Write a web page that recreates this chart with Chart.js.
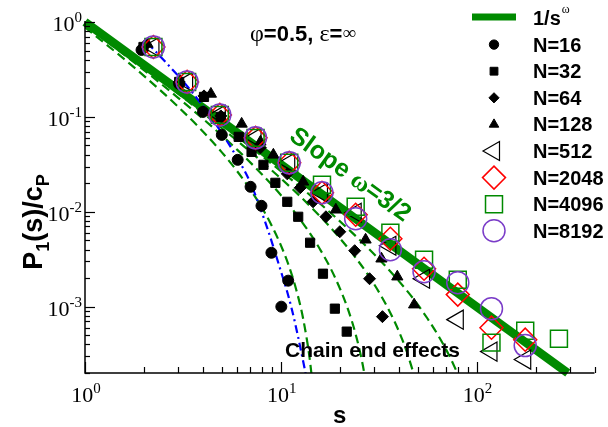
<!DOCTYPE html>
<html>
<head>
<meta charset="utf-8">
<script src="https://cdn.jsdelivr.net/npm/chart.js@4.4.1/dist/chart.umd.min.js"></script>
<style>
  html, body { margin: 0; padding: 0; background: #fff; }
  #wrap { width: 608px; height: 427px; }
</style>
</head>
<body>
<div id="wrap"><canvas id="c" width="608" height="427"></canvas></div>
<script>
// ---------------- data ----------------
// logarithmic s-bins of the long chains (N = 512 ... 8192)
const sBins = [2.236, 3.323, 4.882, 7.43, 11.04, 16.23, 24.12, 36.27, 53.9, 80.13, 119.1, 177.1, 263.3];
const p8192 = [0.5455, 0.2336, 0.105, 0.0601, 0.0328, 0.01585, 0.00844, 0.00398, 0.00234, 0.00179, 0.000953, 0.000389];
const p4096 = [0.5455, 0.2336, 0.105, 0.0601, 0.0328, 0.01924, 0.01129, 0.00601, 0.00312, 0.00192, 0.000418, 0.000559, 0.00046];
const p2048 = [0.5455, 0.2336, 0.105, 0.0601, 0.0328, 0.01585, 0.0093, 0.0052, 0.00251, 0.00134, 0.000601, 0.000449];
const p512  = [0.5455, 0.2336, 0.105, 0.0601, 0.0328, 0.01585, 0.00976, 0.00439, 0.00197, 0.00073, 0.000336, 0.000277];

// short chains
const s16 = [1.944, 3.027, 4.005, 4.996, 6.023, 7.008, 7.966, 8.953, 10.91, 10.06];
const p16 = [0.5073, 0.2226, 0.1129, 0.0646, 0.03526, 0.01833, 0.01156, 0.0037, 0.00188, 0.001];
const s32 = [1.989, 3.027, 4.053, 4.94, 6.094, 7.09, 8.153, 9.38, 10.79, 12.27, 14.11, 16.42, 18.88, 21.71];
const p32 = [0.5455, 0.2336, 0.1624, 0.1, 0.0616, 0.0428, 0.03125, 0.02019, 0.01274, 0.00886, 0.00472, 0.002225, 0.000953, 0.000546];
const s64 = [2.013, 3.027, 4.053, 4.94, 7.87, 10.79, 12.56, 14.61, 17.0, 20.01, 23.84, 28.39, 33.04];
const p64 = [0.559, 0.2336, 0.1664, 0.1024, 0.0472, 0.0251, 0.01789, 0.01274, 0.00886, 0.00616, 0.00389, 0.00197, 0.000785];
const s128 = [2.084, 3.027, 4.395, 6.31, 7.87, 9.162, 13.0, 19.1, 27.1, 32.66, 39.35, 47.97];
const p128 = [0.587, 0.2452, 0.1746, 0.0844, 0.0546, 0.0398, 0.0207, 0.0105, 0.00507, 0.0032, 0.00207, 0.00105];

// power law 1/s^omega, omega = 3/2
const lawS = [1, 292];
const lawP = [1, 0.0002];

// chain-end corrected curves
const endS16 = [1, 1.5, 2, 3, 4, 5, 6, 7, 8, 9, 10, 11, 12, 13, 14, 14.5];
const endP16 = [0.879, 0.447, 0.271, 0.127, 0.0703, 0.0423, 0.0266, 0.0171, 0.0111, 0.00709, 0.00445, 0.00268, 0.0015, 0.00075, 0.000298, 0.000159];
const endS32 = [1, 2, 3, 4, 6, 8, 10, 12, 14, 16, 18, 20, 22, 24, 26, 27];
const endP32 = [0.939, 0.311, 0.158, 0.0957, 0.0449, 0.0249, 0.015, 0.0094, 0.00604, 0.0039, 0.00251, 0.00157, 0.000946, 0.000532, 0.000265, 0.000174];
const endS64 = [1, 2, 4, 6, 8, 12, 16, 20, 24, 28, 32, 36, 40, 44, 48];
const endP64 = [0.969, 0.332, 0.11, 0.0559, 0.0338, 0.0159, 0.00879, 0.00529, 0.00332, 0.00214, 0.00138, 0.000886, 0.000556, 0.000335, 0.000188];
const endS128 = [1, 2, 4, 8, 16, 24, 32, 40, 48, 56, 64, 72, 80];
const endP128 = [0.985, 0.343, 0.117, 0.0388, 0.012, 0.00561, 0.00311, 0.00187, 0.00118, 0.000755, 0.000488, 0.000313, 0.000197];

// fit through the N=16 data
const fitS16 = [2.084, 2.633, 3.401, 4.395, 6.094, 7.008, 8.35, 9.826, 11.30, 13.31, 13.62];
const fitP16 = [0.601, 0.3613, 0.199, 0.0995, 0.0348, 0.02, 0.00766, 0.002676, 0.001, 0.00021, 0.000163];

// axis ranges
const xRange = [1, 400];
const yRange = [0.0002, 1];

// ---------------- styling ----------------
const GREEN = '#008a00';
const PURPLE = '#7a3cc8';
const SANS = '"Liberation Sans", Arial, Helvetica, sans-serif';
const SERIF = '"Liberation Serif", "Times New Roman", serif';
const CLEAR = 'rgba(0,0,0,0)';

function pts(xs, ys) { return xs.map((v, i) => ({ x: v, y: ys[i] })); }

const markerSeries = [
  { label: 'N=16',   s: s16,   p: p16,   style: 'circle',   r: 5.5, rot: 0,   fill: '#000', stroke: '#000', lw: 1,   order: 7 },
  { label: 'N=32',   s: s32,   p: p32,   style: 'rect',     r: 6.5, rot: 0,   fill: '#000', stroke: '#000', lw: 1,   order: 6 },
  { label: 'N=64',   s: s64,   p: p64,   style: 'rectRot',  r: 6,   rot: 0,   fill: '#000', stroke: '#000', lw: 1,   order: 5 },
  { label: 'N=128',  s: s128,  p: p128,  style: 'triangle', r: 6.5, rot: 0,   fill: '#000', stroke: '#000', lw: 1,   order: 4 },
  { label: 'N=512',  s: sBins, p: p512,  style: 'triangle', r: 11,  rot: -90, fill: CLEAR,  stroke: '#000', lw: 1.2, order: 3 },
  { label: 'N=2048', s: sBins, p: p2048, style: 'rectRot',  r: 11.5,rot: 0,   fill: CLEAR,  stroke: '#ff0000', lw: 1.5, order: 2 },
  { label: 'N=4096', s: sBins, p: p4096, style: 'rect',     r: 12,  rot: 0,   fill: CLEAR,  stroke: GREEN, lw: 1.5, order: 1 },
  { label: 'N=8192', s: sBins, p: p8192, style: 'circle',   r: 11,  rot: 0,   fill: CLEAR,  stroke: PURPLE, lw: 1.5, order: 0 }
];

const datasets = [];
markerSeries.forEach(m => {
  datasets.push({
    label: m.label,
    data: pts(m.s, m.p),
    showLine: false,
    pointStyle: m.style,
    pointRadius: m.r,
    pointRotation: m.rot,
    pointBackgroundColor: m.fill,
    pointBorderColor: m.stroke,
    pointBorderWidth: m.lw,
    order: m.order
  });
});

function curve(label, xs, ys, color, width, dash, order) {
  return {
    label, data: pts(xs, ys), showLine: true, pointRadius: 0,
    borderColor: color, borderWidth: width, borderDash: dash,
    cubicInterpolationMode: 'monotone', fill: false, order
  };
}
datasets.push(curve('fit16', fitS16, fitP16, '#0000ff', 2.2, [8, 4, 2, 4], 8));
datasets.push(curve('end16', endS16, endP16, GREEN, 2.2, [9, 5], 9));
datasets.push(curve('end32', endS32, endP32, GREEN, 2.2, [9, 5], 9));
datasets.push(curve('end64', endS64, endP64, GREEN, 2.2, [9, 5], 9));
datasets.push(curve('end128', endS128, endP128, GREEN, 2.2, [9, 5], 9));
const law = curve('1/s^w', lawS, lawP, GREEN, 8.5, [], 10);
law.clip = false;
datasets.push(law);

// ---------------- frame, ticks, legend and labels ----------------
function isDecade(v) { const l = Math.log10(v); return Math.abs(l - Math.round(l)) < 1e-9; }
function logTicks(lo, hi) {
  const out = [];
  for (let e = Math.floor(Math.log10(lo)); e <= Math.ceil(Math.log10(hi)); e++) {
    for (let k = 1; k <= 9; k++) {
      const v = k * Math.pow(10, e);
      if (v >= lo * (1 - 1e-9) && v <= hi * (1 + 1e-9)) out.push(v);
    }
  }
  return out;
}

function drawMarker(ctx, style, x, y, r, rot, fill, stroke, lw) {
  ctx.save();
  ctx.fillStyle = fill; ctx.strokeStyle = stroke; ctx.lineWidth = lw;
  Chart.helpers.drawPoint(ctx, { pointStyle: style, radius: r, rotation: rot, borderWidth: lw }, x, y);
  ctx.restore();
}

function drawPow(ctx, base, exp, x, y, align) {
  const mainF = '22px ' + SERIF, supF = '15px ' + SERIF;
  ctx.font = mainF; const w1 = ctx.measureText(base).width;
  ctx.font = supF; const w2 = ctx.measureText(exp).width;
  const total = w1 + w2;
  let x0 = align === 'right' ? x - total : x - total / 2;
  ctx.font = mainF; ctx.fillText(base, x0, y);
  ctx.font = supF; ctx.fillText(exp, x0 + w1, y - 9);
}

function drawRuns(ctx, runs, x, y) {
  let cx = x;
  for (const r of runs) {
    ctx.font = r.f;
    ctx.fillText(r.t, cx, y + (r.dy || 0));
    cx += ctx.measureText(r.t).width;
  }
  return cx - x;
}
function runsWidth(ctx, runs) {
  let w = 0;
  for (const r of runs) { ctx.font = r.f; w += ctx.measureText(r.t).width; }
  return w;
}

const frame = {
  id: 'frame',
  afterDraw(chart) {
    const { ctx, chartArea: a, scales: { x, y } } = chart;
    ctx.save();
    ctx.fillStyle = '#000';
    ctx.strokeStyle = '#000';

    // axis lines
    ctx.lineWidth = 1.5;
    ctx.beginPath();
    ctx.moveTo(a.left, a.top - 1);
    ctx.lineTo(a.left, a.bottom);
    ctx.lineTo(a.right, a.bottom);
    ctx.stroke();

    // inward ticks
    ctx.lineWidth = 1.2;
    for (const v of logTicks(xRange[0], xRange[1])) {
      const px = Math.round(x.getPixelForValue(v)) + 0.5;
      const len = isDecade(v) ? 11 : 6;
      ctx.beginPath(); ctx.moveTo(px, a.bottom); ctx.lineTo(px, a.bottom - len); ctx.stroke();
    }
    for (const v of logTicks(yRange[0], yRange[1])) {
      const py = Math.round(y.getPixelForValue(v)) + 0.5;
      const len = isDecade(v) ? 10 : 5;
      ctx.beginPath(); ctx.moveTo(a.left, py); ctx.lineTo(a.left + len, py); ctx.stroke();
    }

    // tick labels 10^n
    ctx.textBaseline = 'alphabetic';
    for (const v of logTicks(xRange[0], xRange[1]).filter(isDecade)) {
      drawPow(ctx, '10', String(Math.round(Math.log10(v))), x.getPixelForValue(v) + 1, a.bottom + 29, 'center');
    }
    for (const v of logTicks(yRange[0], yRange[1]).filter(isDecade)) {
      drawPow(ctx, '10', String(Math.round(Math.log10(v))), a.left - 3, y.getPixelForValue(v) + 9, 'right');
    }

    // axis titles
    ctx.font = 'bold 24px ' + SANS;
    ctx.textAlign = 'center';
    ctx.fillText('s', (a.left + a.right) / 2, 423);
    ctx.textAlign = 'left';

    const yTitle = [
      { t: 'P', f: 'bold 27px ' + SANS },
      { t: '1', f: 'bold 18px ' + SANS, dy: 7 },
      { t: '(s)/c', f: 'bold 27px ' + SANS },
      { t: 'P', f: 'bold 18px ' + SANS, dy: 7 }
    ];
    ctx.save();
    ctx.translate(42, 222);
    ctx.rotate(-Math.PI / 2);
    const tw = runsWidth(ctx, yTitle);
    drawRuns(ctx, yTitle, -tw / 2, 0);
    ctx.restore();

    // parameter annotation
    drawRuns(ctx, [
      { t: 'φ', f: '24px ' + SERIF },
      { t: '=0.5, ', f: 'bold 22px ' + SANS },
      { t: 'ε', f: '24px ' + SERIF },
      { t: '=', f: 'bold 22px ' + SANS },
      { t: '∞', f: '19px ' + SERIF, dy: -2 }
    ], 250, 41);

    // slope annotation along the power law
    ctx.save();
    ctx.fillStyle = GREEN;
    ctx.translate(288, 139);
    ctx.rotate(Math.atan2(142.5, 197.5));
    drawRuns(ctx, [
      { t: 'Slope ', f: 'bold 25px ' + SANS },
      { t: 'ω', f: 'bold 25px ' + SERIF },
      { t: '=3/2', f: 'bold 25px ' + SANS }
    ], 0, 0);
    ctx.restore();

    // chain end label
    ctx.font = 'bold 21px ' + SANS;
    ctx.fillText('Chain end effects', 285, 357);

    // legend
    const lx = 494, tx = 533, y0 = 17, dy = 26.6;
    ctx.save();
    ctx.strokeStyle = GREEN; ctx.lineWidth = 7;
    ctx.beginPath(); ctx.moveTo(472, y0); ctx.lineTo(516, y0); ctx.stroke();
    ctx.restore();
    ctx.fillStyle = '#000';
    ctx.font = 'bold 20px ' + SANS;
    ctx.fillText('1/s', tx, y0 + 8);
    const w1s = ctx.measureText('1/s').width;
    ctx.font = '12px ' + SERIF;
    ctx.fillText('ω', tx + w1s + 1, y0 - 4);

    markerSeries.forEach((m, i) => {
      const cy = y0 + dy * (i + 1) + 1;
      const r = m.fill === CLEAR ? m.r : m.r * 0.85;
      drawMarker(ctx, m.style, lx, cy, r, m.rot, m.fill, m.stroke, m.lw);
      ctx.fillStyle = '#000';
      ctx.font = 'bold 20px ' + SANS;
      ctx.fillText(m.label, tx, cy + 7);
    });

    ctx.restore();
  }
};

new Chart(document.getElementById('c').getContext('2d'), {
  type: 'scatter',
  data: { datasets },
  options: {
    responsive: false,
    animation: false,
    devicePixelRatio: 1,
    events: [],
    layout: { padding: { left: 85, right: 9, top: 22, bottom: 54 } },
    plugins: { legend: { display: false }, tooltip: { enabled: false } },
    scales: {
      x: { type: 'logarithmic', min: xRange[0], max: xRange[1], display: false },
      y: { type: 'logarithmic', min: yRange[0], max: yRange[1], display: false }
    }
  },
  plugins: [frame]
});
</script>
</body>
</html>
